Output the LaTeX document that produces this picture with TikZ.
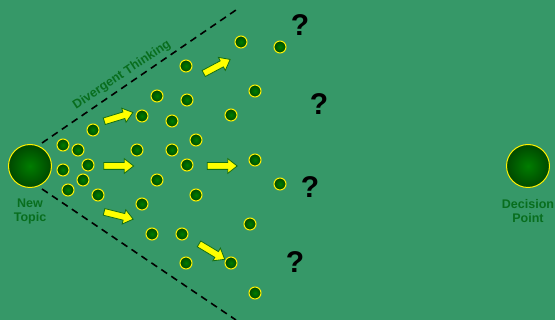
\documentclass[tikz,border=0pt]{standalone}
\usepackage{fontspec}
\setmainfont{Liberation Sans}
\usetikzlibrary{shapes.arrows}
\definecolor{bg}{RGB}{54,152,104}
\definecolor{lbl}{RGB}{8,110,30}
\definecolor{dotin}{RGB}{0,125,0}
\definecolor{dotout}{RGB}{0,72,0}
\definecolor{arrfill}{RGB}{255,255,0}
\definecolor{arrline}{RGB}{20,110,20}
\begin{document}
\begin{tikzpicture}[x=1pt,y=-1pt,
  dot/.style={circle, draw=yellow, line width=1pt, inner sep=0pt, minimum size=12pt, inner color=dotin, outer color=dotout},
  bigball/.style={circle, draw=yellow, line width=1pt, inner sep=0pt, minimum size=43pt, inner color=dotin, outer color=dotout},
  lab/.style={text=lbl, font=\bfseries\fontsize{12.5}{14}\selectfont, align=center, inner sep=0pt},
  qmark/.style={font=\bfseries\fontsize{30}{30}\selectfont, inner sep=0pt},
  fan/.style={line width=1.6pt, dash pattern=on 7pt off 5pt},
  bigarrow/.style={single arrow, draw=arrline, fill=arrfill, line width=0.8pt, inner xsep=0pt, inner ysep=3pt, text height=0pt, text depth=0pt, minimum width=14pt, minimum height=30pt, single arrow head extend=4pt, single arrow head indent=0pt, single arrow tip angle=76}
]
\fill[bg] (0,0) rectangle (555,320);
\useasboundingbox (0,0) rectangle (555,320);

% big circles
\node[bigball] (new) at (30,166) {};
\node[bigball] (dec) at (528,166) {};
\node[lab] (newl) at (30,211) {New\\Topic};
\node[lab] (decl) at (528,211) {Decision\\Point};

% fan lines
\coordinate (u1) at (42,143);
\coordinate (u2) at (236,10);
\coordinate (l1) at (42,189);
\coordinate (l2) at (236,320);
\draw[fan] (u1) -- (u2);
\draw[fan] (l1) -- (l2);
\node[text=lbl, font=\bfseries\fontsize{12.6}{12.6}\selectfont, rotate=33.5, inner sep=0pt] (div) at (122,75) {Divergent Thinking};

% dots
\foreach \n/\x/\y in {1/63/145, 2/78/150, 3/93/130, 4/63/170, 5/88/165, 6/83/180, 7/68/190, 8/98/195,
  9/142/116, 10/172/121, 11/157/96, 12/187/100, 13/186/66, 14/137/150, 15/172/150, 16/196/140,
  17/187/165, 18/157/180, 19/196/195, 20/142/204, 21/152/234, 22/182/234, 23/186/263, 24/231/263,
  25/250/224, 26/255/293, 27/231/115, 28/255/91, 29/241/42, 30/280/47, 31/255/160, 32/280/184}
  \node[dot] (d\n) at (\x,\y) {};

% arrows
\node[bigarrow, rotate=17] (a1) at (116.5,117.5) {};
\node[bigarrow] (a2) at (116.5,166) {};
\node[bigarrow, rotate=-14] (a3) at (116.5,215) {};
\node[bigarrow] (a4) at (220,166) {};
\node[bigarrow, rotate=28] (a5) at (215,67.5) {};
\node[bigarrow, rotate=-31] (a6) at (210,250.5) {};

% question marks
\node[qmark] (q1) at (300,25) {?};
\node[qmark] (q2) at (319,104) {?};
\node[qmark] (q3) at (310,187) {?};
\node[qmark] (q4) at (295,262) {?};
\end{tikzpicture}
\end{document}
